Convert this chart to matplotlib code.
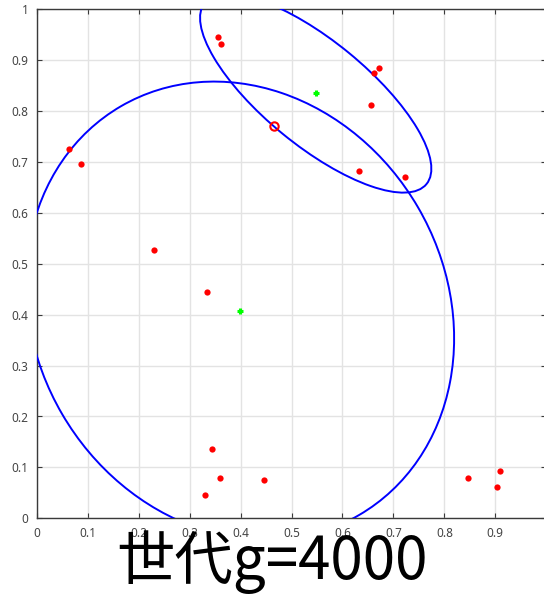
import numpy as np
import matplotlib
matplotlib.use("Agg")
import matplotlib.pyplot as plt
from matplotlib.patches import Ellipse

# Population at generation 4000
pop_x = [0.0634, 0.0863, 0.2296, 0.3340, 0.3564, 0.3623, 0.6710, 0.6625, 0.6554,
         0.6330, 0.7220, 0.3446, 0.3590, 0.3297, 0.4467, 0.8470, 0.9086, 0.9027]
pop_y = [0.7255, 0.6955, 0.5277, 0.4440, 0.9450, 0.9324, 0.8840, 0.8750, 0.8114,
         0.6820, 0.6710, 0.1355, 0.0798, 0.0458, 0.0752, 0.0786, 0.0929, 0.0621]

# Best individual
best_x = [0.4657]
best_y = [0.7710]

# Distribution means and covariances (xx, yy, xy)
mean_x = [0.399, 0.5475]
mean_y = [0.408, 0.835]
cov_xx = [0.1765, 0.0515]
cov_yy = [0.2025, 0.0381]
cov_xy = [-0.0229, -0.0336]

xticks = [0, 0.1, 0.2, 0.3, 0.4, 0.5, 0.6, 0.7, 0.8, 0.9]
xticklabels = ["0", "0.1", "0.2", "0.3", "0.4", "0.5", "0.6", "0.7", "0.8", "0.9"]
yticks = [0, 0.1, 0.2, 0.3, 0.4, 0.5, 0.6, 0.7, 0.8, 0.9, 1.0]
yticklabels = ["0", "0.1", "0.2", "0.3", "0.4", "0.5", "0.6", "0.7", "0.8", "0.9", "1"]
title = "世代g=4000"

fig = plt.figure(figsize=(5.44, 5.96), dpi=100)
ax = fig.add_axes([36.7 / 544, 77.7 / 596, 509.6 / 544, 509 / 596])

axis_col = "#3a3a3a"
ax.set_xlim(0, 1)
ax.set_ylim(0, 1)
ax.set_xticks(xticks)
ax.set_xticklabels(xticklabels)
ax.set_yticks(yticks)
ax.set_yticklabels(yticklabels)
ax.grid(True, color="#e3e3e3", linewidth=1.0)
ax.set_axisbelow(True)
for s in ax.spines.values():
    s.set_color(axis_col)
    s.set_linewidth(1.0)
ax.tick_params(direction="in", length=3.5, width=0.8, color=axis_col,
               top=True, right=True, labelcolor="#444444", labelsize=8.5, pad=6)
for lab in ax.get_xticklabels() + ax.get_yticklabels():
    lab.set_fontfamily("Noto Sans")

# Confidence ellipses of the two search distributions
for cx, cy, sxx, syy, sxy in zip(mean_x, mean_y, cov_xx, cov_yy, cov_xy):
    cov = np.array([[sxx, sxy], [sxy, syy]])
    vals, vecs = np.linalg.eigh(cov)
    angle = np.degrees(np.arctan2(vecs[1, 1], vecs[0, 1]))
    e = Ellipse((cx, cy), 2 * np.sqrt(vals[1]), 2 * np.sqrt(vals[0]), angle=angle,
                fill=False, edgecolor="#0000ff", linewidth=1.4, zorder=3)
    ax.add_patch(e)

ax.plot(pop_x, pop_y, "o", color="#ff0000", markersize=4.5, markeredgewidth=0, zorder=4)
ax.plot(best_x, best_y, "o", markerfacecolor="none", markeredgecolor="#ff0000",
        markersize=6, markeredgewidth=1.5, zorder=4)
ax.plot(mean_x, mean_y, "+", color="#00ff00", markersize=5, markeredgewidth=2.2, zorder=5)

fig.text(0.5, 17 / 596, title, ha="center", va="baseline", fontsize=42,
         family=["Noto Sans CJK JP", "DejaVu Sans"], color="black")

fig.savefig("out.png", dpi=100)
